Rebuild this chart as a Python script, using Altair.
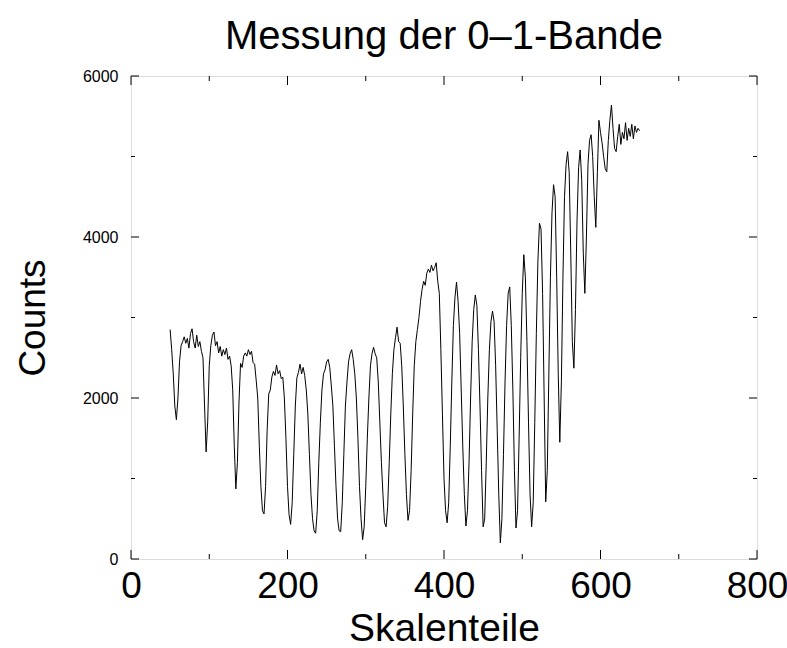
import altair as alt
import pandas as pd

# Spectrum samples (Skalenteile, Counts)
x_vals = [
    50, 52, 54, 56, 58, 60, 62, 64, 66, 68, 70, 72, 74, 76, 78, 80, 82, 84, 86, 88,
    90, 92, 94, 96, 98, 100, 102, 104, 106, 108, 110, 112, 114, 116, 118, 120, 122, 124, 126, 128,
    130, 132, 134, 136, 138, 140, 142, 144, 146, 148, 150, 152, 154, 156, 158, 160, 162, 164, 166, 168,
    170, 172, 174, 176, 178, 180, 182, 184, 186, 188, 190, 192, 194, 196, 198, 200, 202, 204, 206, 208,
    210, 212, 214, 216, 218, 220, 222, 224, 226, 228, 230, 232, 234, 236, 238, 240, 242, 244, 246, 248,
    250, 252, 254, 256, 258, 260, 262, 264, 266, 268, 270, 272, 274, 276, 278, 280, 282, 284, 286, 288,
    290, 292, 294, 296, 298, 300, 302, 304, 306, 308, 310, 312, 314, 316, 318, 320, 322, 324, 326, 328,
    330, 332, 334, 336, 338, 340, 342, 344, 346, 348, 350, 352, 354, 356, 358, 360, 362, 364, 366, 368,
    370, 372, 374, 376, 378, 380, 382, 384, 386, 388, 390, 392, 394, 396, 398, 400, 402, 404, 406, 408,
    410, 412, 414, 416, 418, 420, 422, 424, 426, 428, 430, 432, 434, 436, 438, 440, 442, 444, 446, 448,
    450, 452, 454, 456, 458, 460, 462, 464, 466, 468, 470, 472, 474, 476, 478, 480, 482, 484, 486, 488,
    490, 492, 494, 496, 498, 500, 502, 504, 506, 508, 510, 512, 514, 516, 518, 520, 522, 524, 526, 528,
    530, 532, 534, 536, 538, 540, 542, 544, 546, 548, 550, 552, 554, 556, 558, 560, 562, 564, 566, 568,
    570, 572, 574, 576, 578, 580, 582, 584, 586, 588, 590, 592, 594, 596, 598, 600, 602, 604, 606, 608,
    610, 612, 614, 616, 618, 620, 622, 624, 626, 628, 630, 632, 634, 636, 638, 640, 642, 644, 646, 648,
    650,
]
y_vals = [
    2850, 2600, 2300, 1900, 1730, 2000, 2450, 2650, 2700, 2760, 2680, 2740, 2620, 2800, 2860, 2700, 2620, 2780, 2640, 2700,
    2580, 2500, 1900, 1330, 1700, 2400, 2650, 2780, 2820, 2650, 2700, 2560, 2640, 2520, 2600, 2540, 2620, 2480, 2520, 2400,
    2100, 1400, 870, 1200, 1950, 2430, 2380, 2520, 2560, 2520, 2600, 2540, 2580, 2440, 2420, 2220, 2000, 1400, 900, 600,
    560, 900, 1600, 2050, 2100, 2260, 2330, 2280, 2410, 2300, 2340, 2240, 2260, 2000, 1500, 900, 550, 430, 700, 1300,
    1900, 2250, 2320, 2420, 2300, 2380, 2280, 2100, 1800, 1300, 800, 500, 350, 320, 600, 1200, 1700, 2100, 2300, 2350,
    2450, 2480, 2380, 2150, 1900, 1400, 900, 500, 350, 340, 700, 1300, 1900, 2200, 2450, 2550, 2600, 2480, 2300, 2000,
    1500, 900, 500, 240, 400, 900, 1500, 2000, 2400, 2550, 2630, 2550, 2500, 2200, 1700, 1200, 800, 450, 400, 650,
    1200, 1800, 2300, 2600, 2750, 2880, 2700, 2680, 2400, 1900, 1300, 800, 480, 600, 1100, 1800, 2400, 2700, 2850, 3000,
    3200, 3350, 3450, 3400, 3550, 3600, 3560, 3650, 3580, 3620, 3680, 3450, 3300, 2600, 1800, 1000, 600, 450, 700, 1400,
    2200, 2900, 3250, 3440, 3200, 2800, 2100, 1400, 800, 410, 600, 1200, 2000, 2700, 3100, 3280, 3150, 2600, 1900, 1100,
    400, 500, 1200, 2000, 2600, 2950, 3080, 2950, 2400, 1600, 800, 200, 500, 1300, 2200, 2900, 3300, 3380, 2900, 2100,
    1100, 385, 600, 1500, 2500, 3300, 3780, 3500, 2700, 1700, 800, 400, 700, 1700, 2800, 3700, 4170, 4100, 3300, 2000,
    710, 1100, 2300, 3500, 4300, 4650, 4500, 3500, 2300, 1450, 2200, 3500, 4500, 4900, 5060, 4800, 3800, 2700, 2370, 3100,
    4200, 4860, 5080, 4700, 3800, 3300, 4000, 4900, 5200, 5270, 5000, 4500, 4120, 4800, 5450, 5300, 5170, 5000, 4850, 4810,
    5200, 5450, 5640, 5350, 5100, 5060, 5250, 5400, 5150, 5300, 5220, 5420, 5200, 5350, 5250, 5400, 5220, 5380, 5300, 5350,
    5320,
]

x_major = [0, 200, 400, 600, 800]
x_minor = [100, 300, 500, 700]
y_major = [0, 2000, 4000, 6000]
y_minor = [1000, 3000, 5000]

FONT = "Liberation Sans"
W, H = 626, 483

df = pd.DataFrame({"x": x_vals, "y": y_vals})

xscale = alt.Scale(domain=[0, 800], nice=False, zero=False)
yscale = alt.Scale(domain=[0, 6000], nice=False, zero=False)

line = alt.Chart(df).mark_line(color="black", strokeWidth=1).encode(
    x=alt.X("x:Q", scale=xscale, title="Skalenteile",
            axis=alt.Axis(values=x_major, format="d", ticks=False, domain=False, grid=False,
                          labelFontSize=37, labelFont=FONT, labelColor="black",
                          labelPadding=9, labelFlush=False, labelOverlap=False,
                          titleFontSize=39, titleFont=FONT, titleFontWeight="normal",
                          titleColor="black", titlePadding=5)),
    y=alt.Y("y:Q", scale=yscale, title="Counts",
            axis=alt.Axis(values=y_major, format="d", ticks=False, domain=False, grid=False,
                          labelFontSize=16, labelFont=FONT, labelColor="black",
                          labelPadding=13, labelFlush=False, labelOverlap=False,
                          titleFontSize=37, titleFont=FONT, titleFontWeight="normal",
                          titleColor="black", titlePadding=30)),
)


def xticks(vals, length, top):
    d = pd.DataFrame({"v": vals})
    y0, y1 = (0, length) if top else (H, H - length)
    return alt.Chart(d).mark_rule(color="black", strokeWidth=1).encode(
        x=alt.X("v:Q", scale=xscale), y=alt.value(y0), y2=alt.value(y1))


def yticks(vals, length, right):
    d = pd.DataFrame({"v": vals})
    x0, x1 = (W, W - length) if right else (0, length)
    return alt.Chart(d).mark_rule(color="black", strokeWidth=1).encode(
        y=alt.Y("v:Q", scale=yscale), x=alt.value(x0), x2=alt.value(x1))


chart = alt.layer(
    line,
    xticks(x_major, 9, False), xticks(x_minor, 5, False),
    xticks(x_major, 9, True), xticks(x_minor, 5, True),
    yticks(y_major, 8, False), yticks(y_minor, 4, False),
    yticks(y_major, 8, True), yticks(y_minor, 4, True),
).properties(
    width=W, height=H,
    title=alt.TitleParams("Messung der 0–1-Bande", fontSize=40, font=FONT,
                          fontWeight="normal", color="black", anchor="middle", offset=11),
    autosize=alt.AutoSizeParams(type="none"),
    padding={"left": 131, "top": 76, "right": 30, "bottom": 89},
).configure_view(stroke="black", strokeWidth=1).configure(background="white")

chart.save("out.html", embed_options={"renderer": "svg", "actions": False})
